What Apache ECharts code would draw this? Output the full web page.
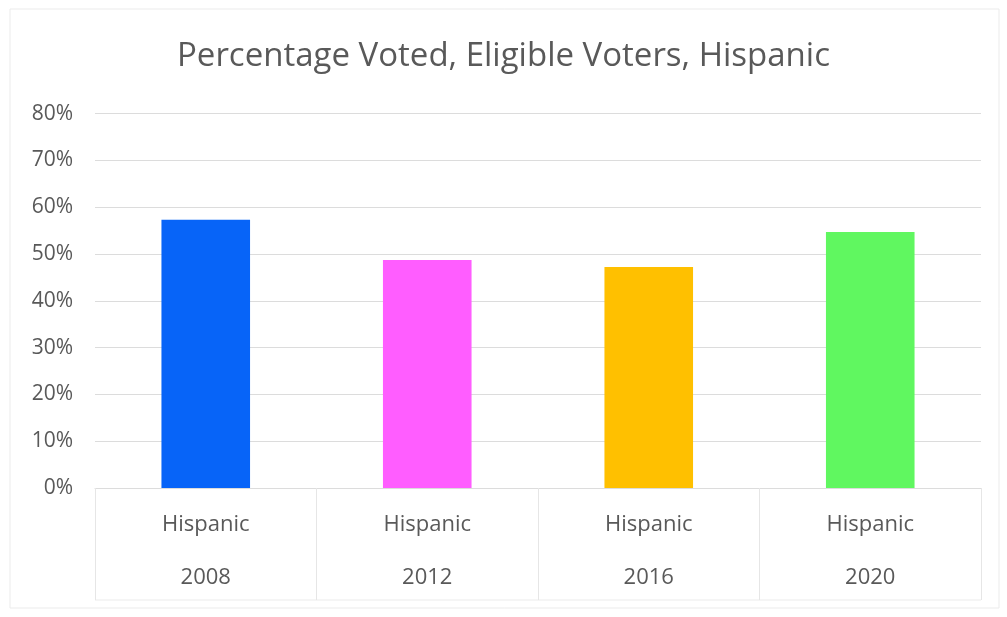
<!DOCTYPE html>
<html>
<head>
<meta charset="utf-8">
<title>Percentage Voted, Eligible Voters, Hispanic</title>
<script src="https://cdn.jsdelivr.net/npm/echarts@6/dist/echarts.min.js"></script>
<style>
  html, body { margin: 0; padding: 0; background: #ffffff; }
  #chart { width: 1007px; height: 617px; }
</style>
</head>
<body>
<div id="chart"></div>
<script>
// Two-level category labels: group on top, election year underneath
const groups = ['Hispanic', 'Hispanic', 'Hispanic', 'Hispanic'];
const years = ['2008', '2012', '2016', '2020'];
// Share of eligible Hispanic voters who voted (%)
const turnout = [57.3, 48.7, 47.2, 54.7];
const barColors = ['#0764F8', '#FF5DFF', '#FFC000', '#60F760'];
const yTicks = [0, 10, 20, 30, 40, 50, 60, 70, 80];

const textColor = '#595959';
const lineColor = '#dcdcdc';
const fontFamily = '"Open Sans", "Noto Sans", sans-serif';

const chart = echarts.init(document.getElementById('chart'), null, { renderer: 'canvas' });

const categories = years.map((y, i) => groups[i] + '|' + y);

const option = {
  backgroundColor: '#ffffff',
  animation: false,
  textStyle: { fontFamily: fontFamily },
  title: {
    text: 'Percentage Voted, Eligible Voters, Hispanic',
    left: 'center',
    top: 35,
    textStyle: { color: textColor, fontSize: 33, fontWeight: 'normal', fontFamily: fontFamily }
  },
  grid: { left: 95, right: 26, top: 113.6, bottom: 129, containLabel: false },
  xAxis: {
    type: 'category',
    data: categories,
    axisLine: { show: true, lineStyle: { color: lineColor, width: 1 } },
    axisTick: { show: true, length: 112, alignWithLabel: false, lineStyle: { color: '#e6e6e6', width: 1 } },
    axisLabel: {
      margin: 10,
      interval: 0,
      formatter: function (v) {
        const parts = v.split('|');
        return '{g|' + parts[0] + '}\n{y|' + parts[1] + '}';
      },
      rich: {
        g: { fontSize: 22, color: textColor, lineHeight: 53, fontFamily: fontFamily },
        y: { fontSize: 22, color: textColor, lineHeight: 53, fontFamily: fontFamily }
      }
    }
  },
  yAxis: {
    type: 'value',
    min: yTicks[0],
    max: yTicks[yTicks.length - 1],
    interval: yTicks[1] - yTicks[0],
    axisLine: { show: false },
    axisTick: { show: false },
    axisLabel: {
      margin: 22,
      color: textColor,
      fontSize: 21,
      fontFamily: fontFamily,
      formatter: '{value}%'
    },
    splitLine: { show: true, lineStyle: { color: lineColor, width: 1 } }
  },
  series: [{
    type: 'bar',
    barWidth: '40%',
    data: turnout.map((v, i) => ({ value: v, itemStyle: { color: barColors[i] } }))
  }]
};

chart.setOption(option);

// Outer chart frame and the bottom edge of the category table
const axisBottom = chart.convertToPixel({ gridIndex: 0 }, [0, 0]);
const gridModel = chart.getModel().getComponent('grid', 0);
const rect = gridModel.coordinateSystem.getRect();
const tableBottom = axisBottom[1] + 112;

chart.setOption({
  graphic: [
    {
      type: 'rect',
      shape: { x: 10, y: 9, width: 989, height: 599 },
      style: { fill: 'none', stroke: '#ebebeb', lineWidth: 1 },
      silent: true
    },
    {
      type: 'line',
      shape: { x1: rect.x, y1: tableBottom, x2: rect.x + rect.width, y2: tableBottom },
      style: { stroke: '#ebebeb', lineWidth: 1 },
      silent: true
    }
  ]
});
</script>
</body>
</html>
